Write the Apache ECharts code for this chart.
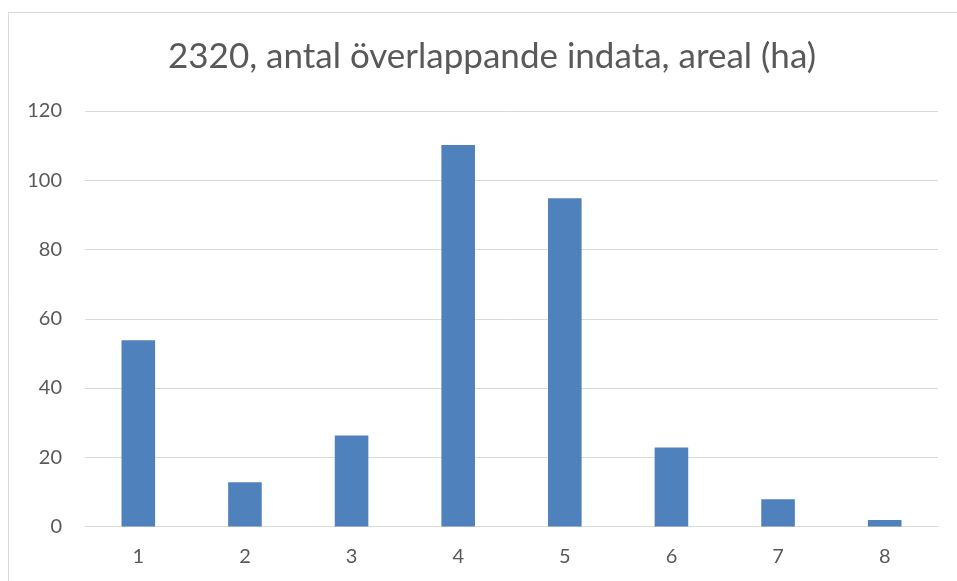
<!DOCTYPE html>
<html>
<head>
<meta charset="utf-8">
<script src="https://cdn.jsdelivr.net/npm/echarts@6/dist/echarts.min.js"></script>
<style>
  html, body { margin: 0; padding: 0; background: #fff; }
  #chart { width: 957px; height: 581px; }
</style>
</head>
<body>
<div id="chart"></div>
<script>
// Number of overlapping input layers and the area (ha) covered by each count
const titleText = '2320, antal överlappande indata, areal (ha)';
const categories = ['1', '2', '3', '4', '5', '6', '7', '8'];
const areaValues = [53.8, 12.8, 26.3, 110.2, 94.8, 22.8, 7.9, 1.9];
const yTicks = { min: 0, max: 120, interval: 20 };

const chart = echarts.init(document.getElementById('chart'));
chart.setOption({
  animation: false,
  backgroundColor: '#ffffff',
  textStyle: { fontFamily: 'Lato' },
  graphic: [{
    type: 'rect',
    silent: true,
    shape: { x: 8.5, y: 12.5, width: 1200, height: 1200 },
    style: { fill: 'none', stroke: '#d9d9d9', lineWidth: 1 }
  }],
  title: {
    text: titleText,
    left: 487,
    top: 34,
    textAlign: 'center',
    textStyle: { fontFamily: 'Lato', fontSize: 35, fontWeight: 'normal', color: '#595959' }
  },
  grid: { left: 85, right: 19, top: 111, bottom: 54.5, containLabel: false },
  xAxis: {
    type: 'category',
    data: categories,
    axisLine: { show: true, lineStyle: { color: '#d9d9d9', width: 1 } },
    axisTick: { show: false },
    axisLabel: { color: '#595959', fontSize: 20, margin: 20 }
  },
  yAxis: {
    type: 'value',
    min: yTicks.min,
    max: yTicks.max,
    interval: yTicks.interval,
    axisLine: { show: false },
    axisTick: { show: false },
    axisLabel: { color: '#595959', fontSize: 20, margin: 23 },
    splitLine: { lineStyle: { color: '#d9d9d9', width: 1 } }
  },
  series: [{
    type: 'bar',
    data: areaValues,
    barWidth: '31.5%',
    itemStyle: { color: '#4f81bd' }
  }]
});
</script>
</body>
</html>
